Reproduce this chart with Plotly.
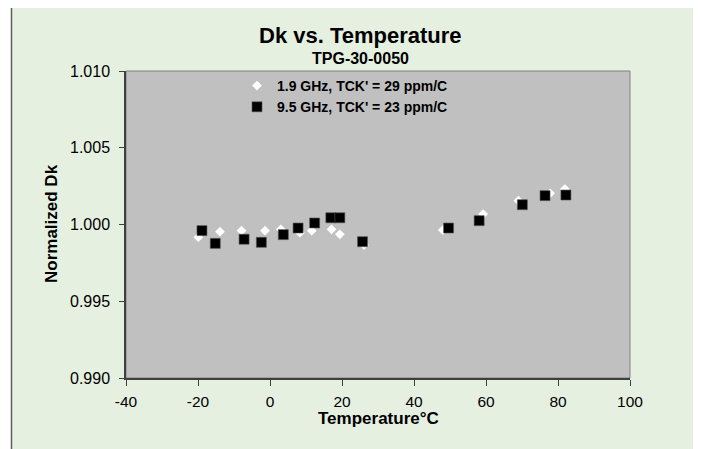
import plotly.graph_objects as go

# Data
temp_19 = [-19.9, -13.9, -7.9, -1.4, 3.0, 8.3, 11.6, 17.1, 19.4, 26.1, 48.0, 59.2, 69.0, 77.8, 81.9]
dk_19 = [0.99917, 0.99953, 0.99960, 0.99960, 0.99969, 0.99947, 0.99960, 0.99969, 0.99936, 0.99866,
         0.99964, 1.00068, 1.00155, 1.00203, 1.00231]

temp_95 = [-18.9, -15.2, -7.2, -2.4, 3.7, 7.8, 12.4, 16.9, 19.4, 25.7, 49.6, 58.1, 70.1, 76.4, 82.2]
dk_95 = [0.99960, 0.99877, 0.99904, 0.99884, 0.99934, 0.99977, 1.00010, 1.00044, 1.00044, 0.99888,
         0.99977, 1.00025, 1.00129, 1.00188, 1.00192]

name_19 = "1.9 GHz, TCK' = 29 ppm/C"
name_95 = "9.5 GHz, TCK' = 23 ppm/C"

x_ticks = [-40, -20, 0, 20, 40, 60, 80, 100]
y_ticks = [0.990, 0.995, 1.000, 1.005, 1.010]

title_text = "Dk vs. Temperature"
subtitle_text = "TPG-30-0050"
x_title = "Temperature°C"
y_title = "Normalized Dk"

FONT = "Arial, Liberation Sans, sans-serif"

fig = go.Figure()
fig.add_trace(go.Scatter(
    x=temp_19, y=dk_19, mode="markers", name=name_19,
    marker=dict(symbol="diamond", size=7.5, color="white", line=dict(width=0)),
))
fig.add_trace(go.Scatter(
    x=temp_95, y=dk_95, mode="markers", name=name_95,
    marker=dict(symbol="square", size=10, color="black", line=dict(width=0.6, color="#555555")),
))

# page offset (browser body margin)
OFF = 8
W, H = 701, 449
# desired plot area in screenshot pixels
PL, PR, PT, PB = 126, 630, 71, 378
L, T = PL - OFF, PT - OFF
R, B = W - (PR - OFF), H - (PB - OFF)
pw, ph = PR - PL, PB - PT

def px(xp):
    return (xp - PL) / pw

def py(yp):
    return (PB - yp) / ph

fig.update_layout(
    width=W, height=H,
    margin=dict(l=L, r=R, t=T, b=B, pad=0),
    paper_bgcolor="white",
    plot_bgcolor="#C0C0C0",
    font=dict(family=FONT, color="black"),
    showlegend=True,
    legend=dict(
        x=px(237), y=py(70), xanchor="left", yanchor="top",
        bgcolor="rgba(0,0,0,0)", borderwidth=0,
        font=dict(family=FONT, size=14, color="black", weight="bold"),
        itemwidth=30, tracegroupgap=0,
    ),
    xaxis=dict(
        range=[-40, 100], tickmode="array", tickvals=x_ticks,
        ticktext=[str(v) for v in x_ticks],
        showgrid=False, zeroline=False,
        showline=True, linecolor="#404040", linewidth=1.5,
        ticks="outside", ticklen=6, tickcolor="#404040", tickwidth=1,
        tickfont=dict(family=FONT, size=15.5, color="black"),
        ticklabelstandoff=3,
    ),
    yaxis=dict(
        range=[0.990, 1.010], tickmode="array", tickvals=y_ticks,
        ticktext=[f"{v:.3f}" for v in y_ticks],
        showgrid=False, zeroline=False,
        showline=True, linecolor="#404040", linewidth=1.5,
        ticks="outside", ticklen=5, tickcolor="#404040", tickwidth=1,
        tickfont=dict(family=FONT, size=16, color="black"),
        ticklabelstandoff=6,
    ),
    shapes=[
        dict(type="rect", xref="paper", yref="paper", layer="below",
             x0=px(11.5), x1=px(695), y0=py(470), y1=py(6.5),
             fillcolor="#E6F0E1", line=dict(color="#606060", width=1.5)),
        dict(type="rect", xref="paper", yref="paper", layer="below",
             x0=0, x1=1, y0=0, y1=1,
             fillcolor="#C0C0C0", line=dict(color="#808080", width=1)),
    ],
    annotations=[
        dict(text=title_text, xref="paper", yref="paper", x=px(360), y=py(36),
             xanchor="center", yanchor="middle", showarrow=False,
             font=dict(family=FONT, size=22, color="black", weight="bold")),
        dict(text=subtitle_text, xref="paper", yref="paper", x=px(360), y=py(59),
             xanchor="center", yanchor="middle", showarrow=False,
             font=dict(family=FONT, size=16, color="black", weight="bold")),
        dict(text=x_title, xref="paper", yref="paper", x=0.5, y=py(418),
             xanchor="center", yanchor="middle", showarrow=False,
             font=dict(family=FONT, size=17, color="black", weight="bold")),
        dict(text=y_title, xref="paper", yref="paper", x=px(51), y=py(224),
             xanchor="center", yanchor="middle", showarrow=False, textangle=-90,
             font=dict(family=FONT, size=17, color="black", weight="bold")),
    ],
)

fig.write_html("out.html")
